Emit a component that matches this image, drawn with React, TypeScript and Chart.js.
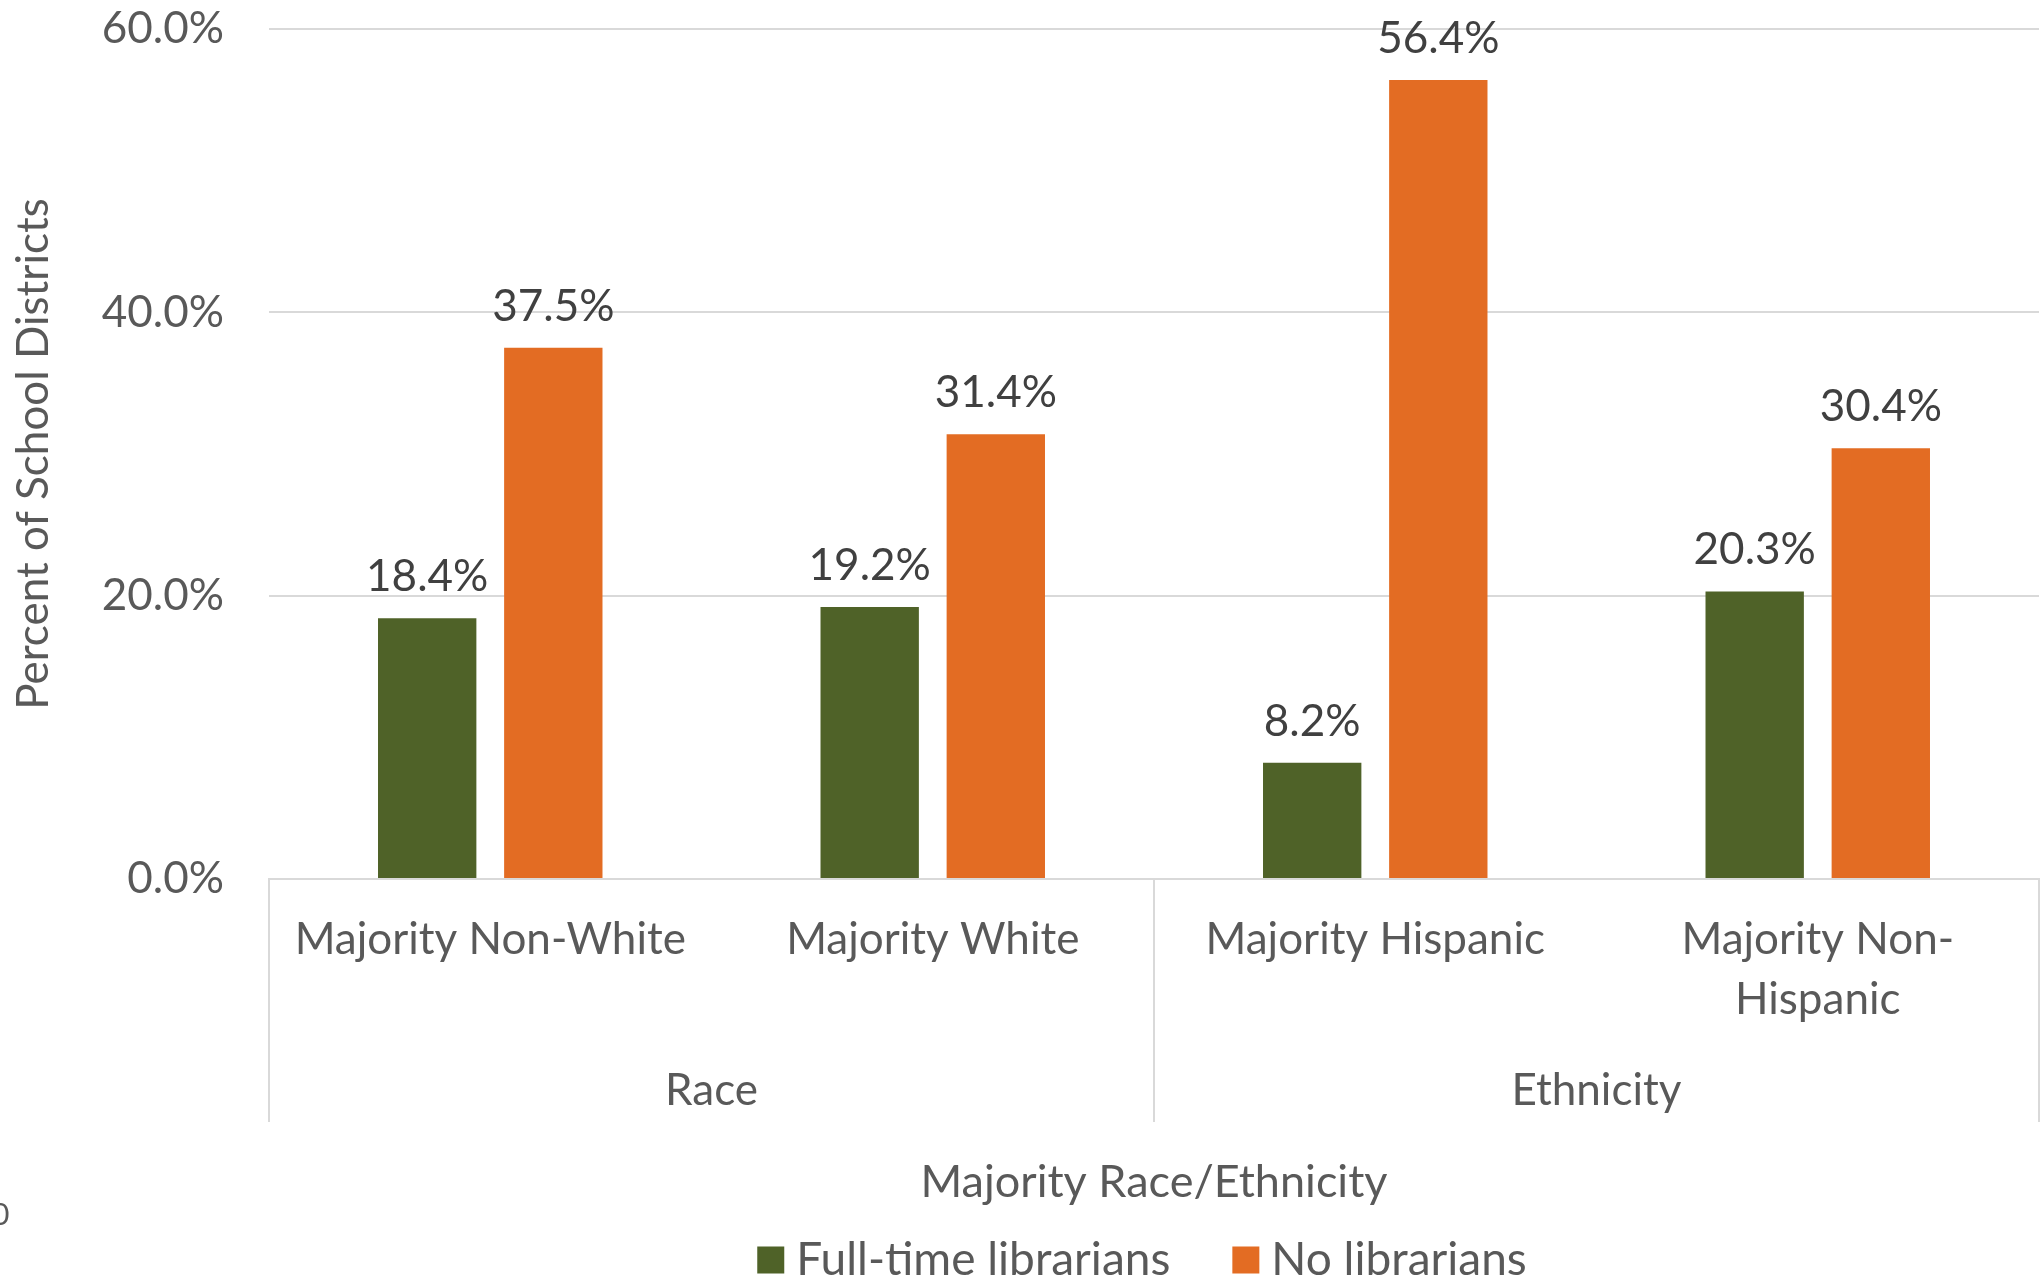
import { useEffect, useRef } from "react";
import { Chart, registerables } from "chart.js";

Chart.register(...registerables);

// Category labels (multi-line where the label wraps)
const categories: string[][] = [
  ["Majority Non-White"],
  ["Majority White"],
  ["Majority Hispanic"],
  ["Majority Non-", "Hispanic"],
];
// Outer grouping of the categories
const groupNames = ["Race", "Ethnicity"];
const groupSizes = [2, 2];

const seriesNames = ["Full-time librarians", "No librarians"];
const fullTimeLibrarians = [18.4, 19.2, 8.2, 20.3];
const noLibrarians = [37.5, 31.4, 56.4, 30.4];

const yMin = 0;
const yMax = 60;
const yStep = 20;

const FONT = "Lato, 'Open Sans', sans-serif";
const GREEN = "#4F6228";
const ORANGE = "#E36C23";
const GRID = "#D9D9D9";
const AXIS_TEXT = "#595959";
const LABEL_TEXT = "#404040";

// Draws "xx.x%" above each bar
const valueLabelPlugin = {
  id: "valueLabels",
  afterDatasetsDraw(chart: any) {
    const ctx = chart.ctx;
    ctx.save();
    ctx.font = `44px ${FONT}`;
    ctx.fillStyle = LABEL_TEXT;
    ctx.textAlign = "center";
    ctx.textBaseline = "alphabetic";
    chart.data.datasets.forEach((ds: any, di: number) => {
      const meta = chart.getDatasetMeta(di);
      meta.data.forEach((bar: any, i: number) => {
        const v = ds.data[i] as number;
        ctx.fillText(`${v.toFixed(1)}%`, bar.x, bar.y - 27);
      });
    });
    ctx.restore();
  },
};

// Second level of the category axis: group labels and separators,
// plus the series legend centred under the plot
const groupAxisPlugin = {
  id: "groupAxis",
  afterDraw(chart: any) {
    const ctx = chart.ctx;
    const xs = chart.scales.x;
    const top = xs.top;
    const sepBottom = top + 243;
    const separators: number[] = [xs.left];
    let start = 0;
    ctx.save();
    ctx.font = `44px ${FONT}`;
    ctx.fillStyle = AXIS_TEXT;
    ctx.textAlign = "center";
    ctx.textBaseline = "middle";
    groupSizes.forEach((n, g) => {
      const end = start + n - 1;
      const cx = (xs.getPixelForTick(start) + xs.getPixelForTick(end)) / 2;
      ctx.fillText(groupNames[g], cx, top + 212);
      if (end + 1 < categories.length) {
        separators.push((xs.getPixelForTick(end) + xs.getPixelForTick(end + 1)) / 2);
      }
      start += n;
    });
    separators.push(xs.right);
    ctx.strokeStyle = GRID;
    ctx.lineWidth = 2;
    separators.forEach((sx) => {
      ctx.beginPath();
      ctx.moveTo(sx, top);
      ctx.lineTo(sx, sepBottom);
      ctx.stroke();
    });

    // legend
    const box = 27;
    const boxGap = 12;
    const itemGap = 62;
    const colors = chart.data.datasets.map((d: any) => d.backgroundColor);
    ctx.font = `46px ${FONT}`;
    const widths = seriesNames.map((s) => box + boxGap + ctx.measureText(s).width);
    const total = widths.reduce((a, b) => a + b, 0) + itemGap * (seriesNames.length - 1);
    let lx = (xs.left + xs.right) / 2 - 12 - total / 2;
    const ly = top + 381;
    ctx.textAlign = "left";
    ctx.textBaseline = "middle";
    seriesNames.forEach((s, i) => {
      ctx.fillStyle = colors[i];
      ctx.fillRect(lx, ly - box / 2, box, box);
      ctx.fillStyle = AXIS_TEXT;
      ctx.fillText(s, lx + box + boxGap, ly);
      lx += widths[i] + itemGap;
    });

    // clipped leftover glyph at the left edge
    ctx.font = `30px ${FONT}`;
    ctx.textBaseline = "alphabetic";
    ctx.fillText("0", -8, 1225);
    ctx.restore();
  },
};

const backgroundPlugin = {
  id: "bg",
  beforeDraw(chart: any) {
    const ctx = chart.ctx;
    ctx.save();
    ctx.fillStyle = "#FFFFFF";
    ctx.fillRect(0, 0, chart.width, chart.height);
    ctx.restore();
  },
};

export default function App() {
  const canvasRef = useRef<HTMLCanvasElement | null>(null);

  useEffect(() => {
    document.body.style.margin = "0";
    document.body.style.overflow = "hidden";
    const canvas = canvasRef.current;
    if (!canvas) return;
    const chart = new Chart(canvas, {
      type: "bar",
      data: {
        labels: categories,
        datasets: [
          {
            label: seriesNames[0],
            data: fullTimeLibrarians,
            backgroundColor: GREEN,
            categoryPercentage: 0.57,
            barPercentage: 0.78,
          },
          {
            label: seriesNames[1],
            data: noLibrarians,
            backgroundColor: ORANGE,
            categoryPercentage: 0.57,
            barPercentage: 0.78,
          },
        ],
      },
      options: {
        responsive: false,
        animation: false,
        devicePixelRatio: 1,
        layout: { padding: { left: 0, right: 2, top: 0, bottom: 0 } },
        plugins: {
          tooltip: { enabled: false },
          legend: { display: false },
        },
        scales: {
          x: {
            grid: { display: false, drawTicks: false },
            border: { display: true, color: GRID, width: 2 },
            ticks: {
              autoSkip: false,
              maxRotation: 0,
              minRotation: 0,
              padding: 31,
              color: AXIS_TEXT,
              font: { family: FONT, size: 44, lineHeight: 1.36 },
            },
            title: {
              display: true,
              text: "Majority Race/Ethnicity",
              color: AXIS_TEXT,
              font: { family: FONT, size: 45 },
              padding: { top: 0, bottom: 76 },
            },
            afterFit(scale: any) {
              scale.height = 406;
            },
          },
          y: {
            min: yMin,
            max: yMax,
            border: { display: false },
            grid: { color: GRID, lineWidth: 2, drawTicks: false },
            ticks: {
              stepSize: yStep,
              padding: 45,
              color: AXIS_TEXT,
              font: { family: FONT, size: 44 },
              callback: (v: any) => `${Number(v).toFixed(1)}%`,
            },
            title: {
              display: true,
              text: "Percent of School Districts",
              color: AXIS_TEXT,
              font: { family: FONT, size: 44 },
              padding: { top: 7, bottom: 0 },
            },
            afterFit(scale: any) {
              scale.width = 269;
              scale.paddingTop = 29;
              scale.paddingBottom = 26;
            },
          },
        },
      },
      plugins: [backgroundPlugin, valueLabelPlugin, groupAxisPlugin],
    } as any);
    return () => chart.destroy();
  }, []);

  return (
    <div style={{ position: "absolute", left: 0, top: 0, width: 2041, height: 1285 }}>
      <canvas ref={canvasRef} width={2041} height={1285} />
    </div>
  );
}
